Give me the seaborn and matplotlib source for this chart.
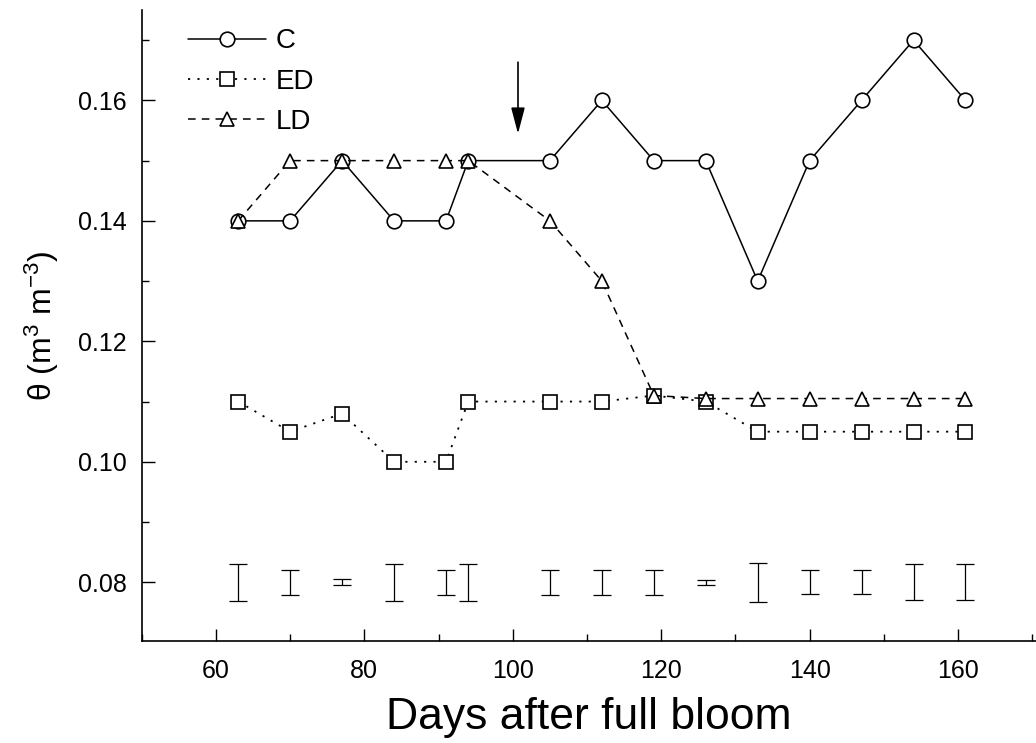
import numpy as np
import matplotlib
matplotlib.use("Agg")
import matplotlib.pyplot as plt
from matplotlib.ticker import MultipleLocator, FormatStrFormatter
import seaborn as sns

# soil water content under three irrigation treatments
days = [63, 70, 77, 84, 91, 94, 105, 112, 119, 126, 133, 140, 147, 154, 161]
theta_c = [0.14, 0.14, 0.15, 0.14, 0.14, 0.15, 0.15, 0.16, 0.15, 0.15, 0.13, 0.15, 0.16, 0.17, 0.16]
theta_ed = [0.110, 0.105, 0.108, 0.100, 0.100, 0.110, 0.110, 0.110, 0.111, 0.110, 0.105, 0.105, 0.105, 0.105, 0.105]
theta_ld = [0.14, 0.15, 0.15, 0.15, 0.15, 0.15, 0.14, 0.13, 0.111, 0.1105, 0.1105, 0.1105, 0.1105, 0.1105, 0.1105]

# LSD bars drawn at the bottom of the plot
lsd_y = 0.08
lsd_half = [0.0031, 0.0021, 0.0005, 0.0031, 0.0021, 0.0031, 0.0021, 0.0021,
            0.0021, 0.0004, 0.0032, 0.0020, 0.0020, 0.0030, 0.0030]

arrow_day = 100.7

sns.set_style("ticks", {"axes.edgecolor": "black", "text.color": "black",
                        "axes.labelcolor": "black", "xtick.color": "black",
                        "ytick.color": "black"})
plt.rcParams["font.family"] = ["Liberation Sans", "DejaVu Sans"]
plt.rcParams["mathtext.fontset"] = "custom"
plt.rcParams["mathtext.rm"] = "Liberation Sans"
plt.rcParams["mathtext.default"] = "regular"

fig = plt.figure(figsize=(10.36, 7.43), dpi=100)
ax = fig.add_axes([0.1368, 0.1377, 0.8632, 0.8488])

sns.lineplot(x=days, y=theta_c, ax=ax, color="black", lw=1.1, marker="o",
             markersize=10.5, markerfacecolor="white", markeredgecolor="black",
             markeredgewidth=1.2, label="C")
sns.lineplot(x=days, y=theta_ed, ax=ax, color="black", lw=1.3, linestyle=(0, (1.2, 4)),
             marker="s", markersize=9.5, markerfacecolor="white", markeredgecolor="black",
             markeredgewidth=1.2, label="ED")
sns.lineplot(x=days, y=theta_ld, ax=ax, color="black", lw=1.1, linestyle=(0, (5, 4)),
             marker="^", markersize=10.5, markerfacecolor="white", markeredgecolor="black",
             markeredgewidth=1.2, label="LD")

ax.errorbar(days, [lsd_y] * len(days), yerr=lsd_half, fmt="none", ecolor="black",
            elinewidth=0.9, capsize=6.5, capthick=0.9)

ax.annotate("", xy=(arrow_day, 0.1540), xytext=(arrow_day, 0.1668),
            arrowprops=dict(arrowstyle="-|>,head_length=1.6,head_width=0.42",
                            color="black", lw=1.2, mutation_scale=10))

ax.set_xlim(50, 170.5)
ax.set_ylim(0.0703, 0.175)
ax.xaxis.set_major_locator(MultipleLocator(20))
ax.xaxis.set_minor_locator(MultipleLocator(10))
ax.yaxis.set_major_locator(MultipleLocator(0.02))
ax.yaxis.set_minor_locator(MultipleLocator(0.01))
ax.yaxis.set_major_formatter(FormatStrFormatter("%.2f"))
ax.tick_params(which="major", direction="in", length=9, width=1.0, labelsize=18)
ax.tick_params(which="minor", direction="in", length=5, width=1.0)
ax.tick_params(axis="x", which="major", pad=13)
ax.tick_params(axis="y", which="major", pad=11)

sns.despine(ax=ax)
for s in ["left", "bottom"]:
    ax.spines[s].set_linewidth(1.2)

ax.set_xlabel("Days after full bloom", fontsize=32, labelpad=10)
ax.set_ylabel(r"θ (m$^3$ m$^{-3}$)", fontsize=23, labelpad=12)

ax.legend(loc="upper left", bbox_to_anchor=(0.1815, 0.962), bbox_transform=fig.transFigure,
          frameon=False, fontsize=20, handlelength=2.8, handletextpad=0.35,
          borderpad=0, borderaxespad=0, labelspacing=0.52, numpoints=1)

fig.savefig("out.png", dpi=100)
